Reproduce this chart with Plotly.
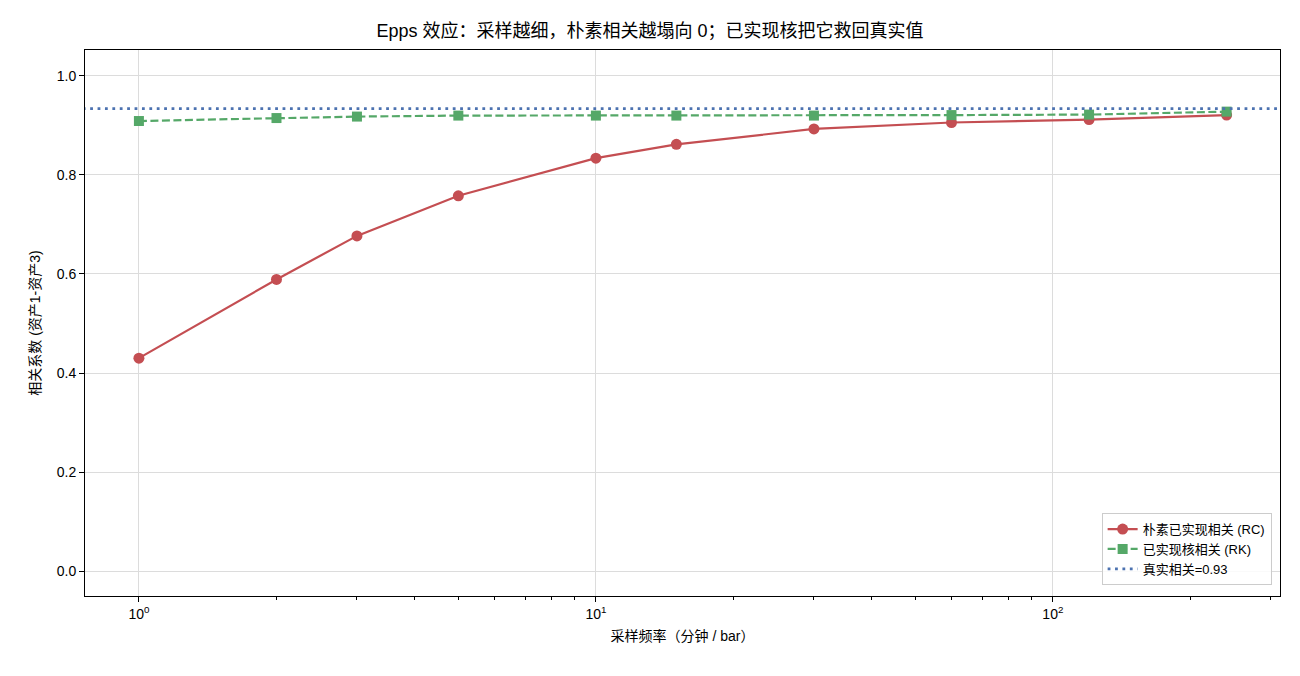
import plotly.graph_objects as go

freq = [1, 2, 3, 5, 10, 15, 30, 60, 120, 240]
rc = [0.430, 0.589, 0.677, 0.758, 0.834, 0.862, 0.893, 0.906, 0.912, 0.921]
rk = [0.909, 0.915, 0.918, 0.920, 0.920, 0.920, 0.920, 0.921, 0.922, 0.928]
true_corr = 0.934

FONT = "Liberation Sans, Arial, Noto Sans CJK SC, sans-serif"
RED = "#C44E52"
GREEN = "#55A868"
BLUE = "#4C72B0"

fig = go.Figure()
fig.add_trace(go.Scatter(x=freq, y=rc, mode="lines+markers", name="朴素已实现相关 (RC)",
                         line=dict(color=RED, width=2.2), marker=dict(symbol="circle", size=11, color=RED)))
fig.add_trace(go.Scatter(x=freq, y=rk, mode="lines+markers", name="已实现核相关 (RK)",
                         line=dict(color=GREEN, width=2.2, dash="8px,3.5px"),
                         marker=dict(symbol="square", size=10, color=GREEN)))
fig.add_trace(go.Scatter(x=[0.5, 500], y=[true_corr, true_corr], mode="lines", name=f"真实相关={true_corr:.2f}",
                         line=dict(color=BLUE, width=2.8, dash="2.8px,4.6px")))

minor_vals = [v * m for m in (1, 10, 100) for v in range(2, 10)]
fig.update_layout(
    width=1300, height=676,
    margin=dict(l=85, r=20, t=50, b=80),
    plot_bgcolor="white", paper_bgcolor="white",
    font=dict(family=FONT, size=14, color="black"),
    title=dict(text="Epps 效应：采样越细，朴素相关越塌向 0；已实现核把它救回真实值",
               x=0.5, xanchor="center", y=0.955, yanchor="middle", font=dict(size=18)),
    xaxis=dict(type="log", range=[-0.118, 2.497], showline=True, linecolor="black", linewidth=1, mirror=True,
               ticks="outside", ticklen=5, tickcolor="black",
               tickvals=[1, 10, 100], ticktext=["10<sup>0</sup>", "10<sup>1</sup>", "10<sup>2</sup>"],
               showgrid=True, gridcolor="#dcdcdc", gridwidth=1, zeroline=False,
               minor=dict(ticks="outside", ticklen=3, tickcolor="black", tickvals=minor_vals, showgrid=False),
               title=dict(text="采样频率（分钟 / bar）", font=dict(size=14), standoff=10)),
    yaxis=dict(range=[-0.0505, 1.0525], showline=True, linecolor="black", linewidth=1, mirror=True,
               ticks="outside", ticklen=5, tickcolor="black",
               tickvals=[0, 0.2, 0.4, 0.6, 0.8, 1.0], ticktext=["0.0", "0.2", "0.4", "0.6", "0.8", "1.0"],
               showgrid=True, gridcolor="#dcdcdc", gridwidth=1, zeroline=False,
               title=dict(text="相关系数 (资产1-资产3)", font=dict(size=14), standoff=12)),
    legend=dict(x=0.993, y=0.02, xanchor="right", yanchor="bottom", bgcolor="rgba(255,255,255,0.85)",
                bordercolor="#cccccc", borderwidth=1, font=dict(size=13), tracegroupgap=2),
    showlegend=True,
)

fig.write_html("out.html")
